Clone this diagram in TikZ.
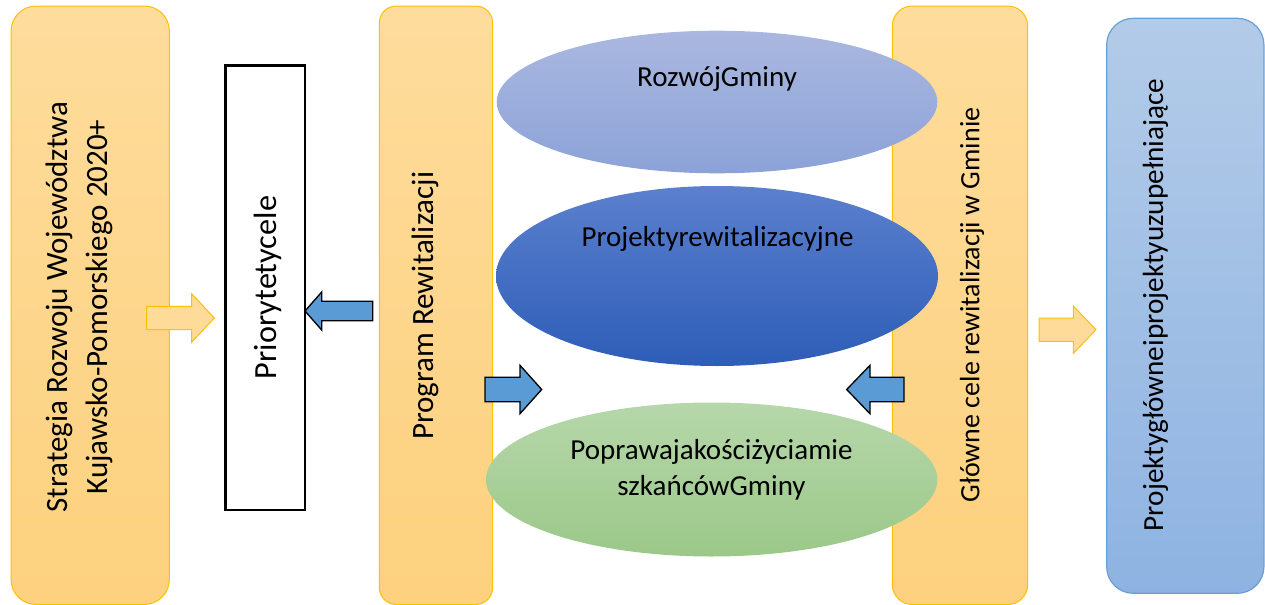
\documentclass[tikz,border=0pt]{standalone}
\usepackage{fontspec}
\setmainfont{Carlito}
\usetikzlibrary{shapes.geometric}
\definecolor{orTop}{HTML}{FEDC9C}
\definecolor{orBot}{HTML}{FDD17E}
\definecolor{orLine}{HTML}{FFC000}
\definecolor{eaTop}{HTML}{AAB8E0}
\definecolor{eaBot}{HTML}{8CA2D7}
\definecolor{ebTop}{HTML}{5B80CE}
\definecolor{ebBot}{HTML}{2E5DB7}
\definecolor{ecTop}{HTML}{B6D7AA}
\definecolor{ecBot}{HTML}{9BC889}
\definecolor{dTop}{HTML}{B3CBE8}
\definecolor{dBot}{HTML}{8EB3E2}
\definecolor{dLine}{HTML}{6A9FD6}
\definecolor{arrBlue}{HTML}{5B9BD5}
\definecolor{arrOr}{HTML}{FEDB98}
\tikzset{
  sized/.style 2 args={minimum width=#1*0.75pt, minimum height=#2*0.75pt},
  colbox/.style={rectangle, inner sep=0pt, draw=orLine, line width=0.75pt, top color=orTop, bottom color=orBot},
  bluebox/.style={rectangle, inner sep=0pt, draw=dLine, line width=0.9pt, top color=dTop, bottom color=dBot},
  whitebox/.style={rectangle, inner sep=0pt, draw=black, line width=2pt, fill=white},
  oval/.style={ellipse, inner sep=0pt, draw=none},
  vtxt/.style={rotate=90, inner sep=0pt, font=\fontsize{23.25}{30}\selectfont, text=black},
  etxt/.style={inner sep=0pt, font=\fontsize{21.75}{26.8}\selectfont, text=black},
  bluearrow/.style={draw=black, line width=1pt, fill=arrBlue, line join=miter},
  orarrow/.style={draw=orLine, line width=0.75pt, fill=arrOr, line join=miter},
}
% right-pointing block arrow: tail x, tip x, centre y, shaft half, head half, head length
\newcommand{\rblock}[7]{\draw[#7] ({#1},{#3-#4}) -- ({#2-#6},{#3-#4}) -- ({#2-#6},{#3-#5}) -- ({#2},{#3}) -- ({#2-#6},{#3+#5}) -- ({#2-#6},{#3+#4}) -- ({#1},{#3+#4}) -- cycle;}
% left-pointing block arrow: tip x, tail x, centre y, shaft half, head half, head length
\newcommand{\lblock}[7]{\draw[#7] ({#2},{#3-#4}) -- ({#1+#6},{#3-#4}) -- ({#1+#6},{#3-#5}) -- ({#1},{#3}) -- ({#1+#6},{#3+#5}) -- ({#1+#6},{#3+#4}) -- ({#2},{#3+#4}) -- cycle;}
\begin{document}
\begin{tikzpicture}[x=0.75pt, y=-0.75pt]
\useasboundingbox (0,0) rectangle (1265,604);
% boxes
\node[colbox, rounded corners=18.75pt, sized={158.3}{598.5}] (strat) at (90.2,305.25) {};
\node[whitebox, sized={79.3}{444.3}] (prio) at (265.3,287.8) {};
\node[colbox, rounded corners=12.75pt, sized={113.4}{598.5}] (prog) at (436,305.25) {};
\node[colbox, rounded corners=15pt, sized={135.4}{598.5}] (cele) at (960,305.25) {};
\node[bluebox, rounded corners=20pt, sized={157.3}{575}] (proj) at (1185.3,305.8) {};
% ellipses
\node[oval, top color=eaTop, bottom color=eaBot, sized={440.6}{142.6}] (rozw) at (717,102) {};
\node[oval, top color=ebTop, bottom color=ebBot, sized={442}{180}] (rewit) at (717,276) {};
\node[oval, top color=ecTop, bottom color=ecBot, sized={451.4}{154}] (popr) at (711.7,479.5) {};
% block arrows
\rblock{146.7}{214.3}{318}{11.7}{24.2}{22.6}{orarrow}
\lblock{305}{372.7}{311}{9.7}{19}{16.7}{bluearrow}
\rblock{485}{541.7}{389.5}{12.2}{24.2}{21.7}{bluearrow}
\lblock{846.7}{904}{389.5}{12.2}{24.2}{23.3}{bluearrow}
\rblock{1039}{1096}{329.7}{11.7}{23.7}{22.7}{orarrow}
% texts
\node[vtxt, align=center] (stratT) at (79,307) {Strategia Rozwoju Województwa\\Kujawsko-Pomorskiego 2020+};
\node[vtxt, anchor=base, font=\fontsize{24.2}{30}\selectfont] (prioT) at (276.7,287.5) {Priorytetycele};
\node[vtxt, anchor=base] (progT) at (433.3,305.8) {Program Rewitalizacji};
\node[vtxt, anchor=base, font=\fontsize{21}{26}\selectfont] (celeT) at (979.3,305) {Główne cele rewitalizacji w Gminie};
\node[vtxt, anchor=base, font=\fontsize{21.9}{27}\selectfont] (projT) at (1163,305) {Projektygłówneiprojektyuzupełniające};
\node[etxt, anchor=base] (rozwT) at (717,86) {RozwójGminy};
\node[etxt, anchor=base] (rewitT) at (717.5,246.7) {Projektyrewitalizacyjne};
\node[etxt, align=center] (poprT) at (711.5,470) {Poprawajakościżyciamie\\szkańcówGminy};
\end{tikzpicture}
\end{document}
